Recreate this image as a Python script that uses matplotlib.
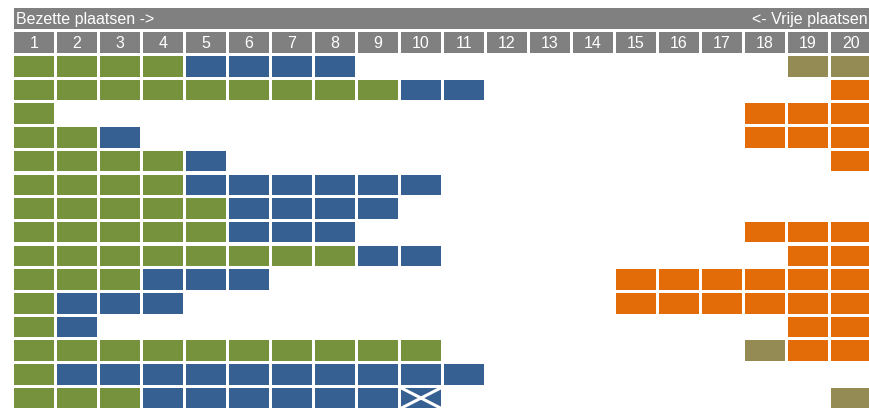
import matplotlib
matplotlib.use("Agg")
import matplotlib.pyplot as plt
from matplotlib.patches import Rectangle

plt.rcParams['font.family'] = ['Liberation Sans', 'DejaVu Sans']

header_left = "Bezette plaatsen ->"
header_right = "<- Vrije plaatsen"
column_labels = [str(i) for i in range(1, 21)]

# G = green, B = blue, O = orange, K = khaki, X = blue crossed, . = empty
seat_rows = [
    "GGGGBBBB..........KK",
    "GGGGGGGGGBB........O",
    "G................OOO",
    "GGB..............OOO",
    "GGGGB..............O",
    "GGGGBBBBBB..........",
    "GGGGGBBBB...........",
    "GGGGGBBB.........OOO",
    "GGGGGGGGBB........OO",
    "GGGBBB........OOOOOO",
    "GBBB..........OOOOOO",
    "GB................OO",
    "GGGGGGGGGG.......KOO",
    "GBBBBBBBBBB.........",
    "GGGBBBBBBX.........K",
]

colors = {"G": "#76923C", "B": "#366092", "O": "#E36C09",
          "K": "#948A54", "X": "#366092"}
grey = "#808080"

fig = plt.figure(figsize=(8.7, 4.1), dpi=100)
ax = fig.add_axes([0, 0, 1, 1])
pitch_x = 43.0
pitch_y = 23.7
ax.set_xlim(-14 / pitch_x, (870 - 14) / pitch_x)
ax.set_ylim((410 - 57) / pitch_y, -57 / pitch_y)
ax.axis("off")

cw = 40 / pitch_x
ch = 20.5 / pitch_y

# header bar
ax.add_patch(Rectangle((0, -2.02), (870 - 14) / pitch_x + 0.1, ch,
                       facecolor=grey, edgecolor="none"))
ax.text(0.05, -2.02 + ch / 2, header_left, color="white", fontsize=11.5,
        va="center", ha="left")
ax.text((868 - 14) / pitch_x, -2.02 + ch / 2, header_right, color="white",
        fontsize=11.5, va="center", ha="right")

# column labels
for c, lab in enumerate(column_labels):
    ax.add_patch(Rectangle((c, -1.0), cw, ch, facecolor=grey, edgecolor="none"))
    ax.text(c + cw / 2, -1.0 + ch / 2, lab, color="white", fontsize=11.5,
            va="center", ha="center")

# seats
for r, row in enumerate(seat_rows):
    for c, code in enumerate(row):
        if code == ".":
            continue
        ax.add_patch(Rectangle((c, r), cw, ch, facecolor=colors[code],
                               edgecolor="none"))
        if code == "X":
            ax.plot([c, c + cw], [r, r + ch], color="white", lw=2.2,
                    solid_capstyle="butt")
            ax.plot([c, c + cw], [r + ch, r], color="white", lw=2.2,
                    solid_capstyle="butt")

fig.savefig("out.png", dpi=100)
